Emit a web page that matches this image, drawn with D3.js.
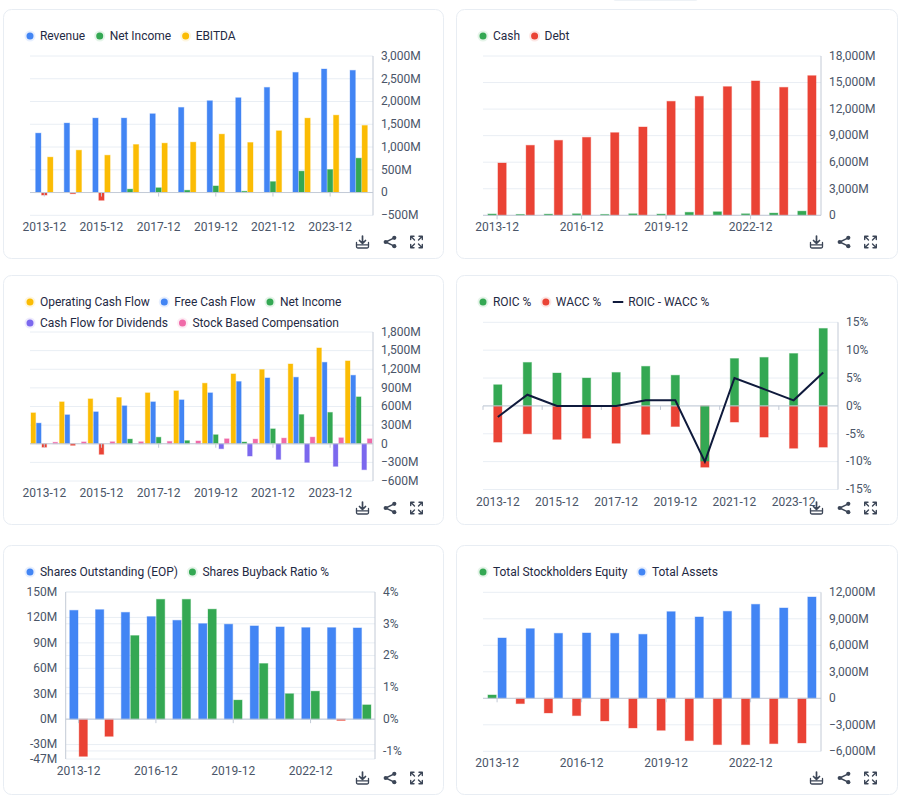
<!DOCTYPE html>
<html><head><meta charset="utf-8">
<script src="https://cdn.jsdelivr.net/npm/d3@7/dist/d3.min.js"></script>
<style>
html,body{margin:0;padding:0;background:#fff;}
svg{display:block;}
text{font-family:Roboto,"Noto Sans",sans-serif;}
</style></head><body><div id="chart"></div>
<script>
const years = ["2013-12","2014-12","2015-12","2016-12","2017-12","2018-12","2019-12","2020-12","2021-12","2022-12","2023-12","2024-12"];

const revenue = [1305,1526,1636,1636,1731,1870,2017,2083,2310,2640,2714,2685];
const netIncome = [-55,-25,-170,75,105,50,145,28,240,470,505,755];
const ebitda = [778,930,820,1055,1085,1107,1283,1100,1357,1635,1700,1474];
const cash = [150,100,130,170,100,170,140,340,400,170,250,470];
const debt = [5910,7910,8470,8810,9340,9980,12880,13440,14540,15180,14460,15780];
const operatingCashFlow = [498,675,723,745,820,852,975,1125,1195,1285,1543,1334];
const freeCashFlow = [332,466,514,611,675,707,820,1002,1060,1071,1312,1103];
const cashFlowDividends = [0,0,0,0,0,0,-80,-198,-252,-300,-364,-418];
const stockComp = [24,30,32,32,38,45,80,75,91,107,96,80];
const roic = [3.8,7.8,5.9,5,6,7.1,5.5,-9.9,8.5,8.7,9.4,13.9];
const wacc = [-6.5,-5,-6,-5.8,-6.7,-5.1,-3.7,-11,-2.9,-5.6,-7.6,-7.4];
const spread = [-2,2,0,0,0,1,1,-10,5,3,1,6];
const sharesOutstanding = [128.4,129.2,126,121,116.6,112.7,112,110,108.8,108,108,107.6];
const buybackRatio = [-1.17,-0.54,2.63,3.77,3.77,3.46,0.6,1.75,0.8,0.88,-0.04,0.45];
const equity = [377,-600,-1660,-1960,-2566,-3358,-3622,-4792,-5245,-5245,-5132,-5057];
const assets = [6830,7887,7358,7396,7358,7245,9811,9208,9849,10640,10226,11470];

const ticks1 = [-500,0,500,1000,1500,2000,2500,3000];
const ticks2 = [0,3000,6000,9000,12000,15000,18000];
const ticks3 = [-600,-300,0,300,600,900,1200,1500,1800];
const ticks4 = [-15,-10,-5,0,5,10,15];
const ticks5L = [-47,-30,0,30,60,90,120,150];
const ticks5R = [-1,0,1,2,3,4];
const ticks6 = [-6000,-3000,0,3000,6000,9000,12000];

const BLUE="#4285f4",GREEN="#34a853",YELLOW="#fbbc04",RED="#ea4335",PURPLE="#7b68ee",PINK="#f06aa8",NAVY="#0f1a3c";
const fmtM = d => d===0?"0":d3.format(",")(d)+"M";
const fmtM0 = d => d+"M";
const fmtP = d => d+"%";

const panels = [
 {card:[3.5,9.5,440,249],plot:[30,373,56,215.3],domain:[-500,3000],ticks:ticks1,fmt:fmtM,step:2,barW:5.3,pitch:6,
  legend:[[["Revenue",BLUE],["Net Income",GREEN],["EBITDA",YELLOW]]],legendX:30,legendY:36,
  bars:[{v:revenue,c:BLUE},{v:netIncome,c:GREEN,neg:RED},{v:ebitda,c:YELLOW}]},
 {card:[456.5,9.5,441,249],plot:[483,821,56,215.3],domain:[0,18000],ticks:ticks2,fmt:fmtM,step:3,barW:8.3,pitch:10,
  legend:[[["Cash",GREEN],["Debt",RED]]],legendX:483,legendY:36,
  bars:[{v:cash,c:GREEN},{v:debt,c:RED}]},
 {card:[3.5,275.5,440,249],plot:[30,373,332,481],domain:[-600,1800],ticks:ticks3,fmt:fmtM,step:2,barW:4.6,pitch:5.5,
  legend:[[["Operating Cash Flow",YELLOW],["Free Cash Flow",BLUE],["Net Income",GREEN]],[["Cash Flow for Dividends",PURPLE],["Stock Based Compensation",PINK]]],legendX:30,legendY:302,
  bars:[{v:operatingCashFlow,c:YELLOW},{v:freeCashFlow,c:BLUE},{v:netIncome,c:GREEN,neg:RED},{v:cashFlowDividends,c:PURPLE},{v:stockComp,c:PINK}]},
 {card:[456.5,275.5,441,249],plot:[483,838,322.3,489.5],domain:[-15,15],ticks:ticks4,fmt:fmtP,step:2,barW:8.3,pitch:0,boundary:true,
  legend:[[["ROIC %",GREEN],["WACC %",RED],["ROIC - WACC %",NAVY,"line"]]],legendX:483,legendY:302,
  bars:[{v:wacc,c:RED},{v:roic,c:GREEN}],line:spread},
 {card:[3.5,545.5,440,249],plot:[65.7,375,592,759],domain:[-47,150],ticks:ticks5L,fmt:fmtM0,step:3,barW:8.3,pitch:9.4,
  legend:[[["Shares Outstanding (EOP)",BLUE],["Shares Buyback Ratio %",GREEN]]],legendX:30,legendY:572,
  bars:[{v:sharesOutstanding,c:BLUE},{v:buybackRatio,c:GREEN,neg:RED,right:true}],
  right:{max:4,ticks:ticks5R,fmt:fmtP}},
 {card:[456.5,545.5,441,249],plot:[483,821,592.3,751.3],domain:[-6000,12000],ticks:ticks6,fmt:fmtM,step:3,barW:8.3,pitch:10,
  legend:[[["Total Stockholders Equity",GREEN],["Total Assets",BLUE]]],legendX:483,legendY:572,
  bars:[{v:equity,c:GREEN,neg:RED},{v:assets,c:BLUE}]}
];

const GRID="#e9eef4",AXIS="#c3cad6",LABEL="#4a5568",LEG="#1f2a44",ICON="#3c4657";
const FONT='Roboto,"Noto Sans",sans-serif';
const svg=d3.select("#chart").append("svg").attr("width",900).attr("height",808);
svg.append("rect").attr("x",613).attr("y",-6).attr("width",85).attr("height",7).attr("rx",3).attr("fill","#eef2f6");

function styleAxis(g,size,color){
  g.selectAll("text").attr("font-size",size).attr("fill",color||LABEL).attr("font-family",FONT);
}
panels.forEach(p=>{
  const [cx,cy,cw,ch]=p.card, [l,r,t,b]=p.plot;
  const g=svg.append("g");
  g.append("rect").attr("x",cx).attr("y",cy).attr("width",cw).attr("height",ch).attr("rx",8).attr("fill","#fff").attr("stroke","#e8edf3");

  const x=d3.scaleBand().domain(years).range([l,r]);
  const y=d3.scaleLinear().domain(p.domain).range([b,t]);
  const y2=p.right?d3.scaleLinear().domain([p.domain[0]/p.domain[1]*p.right.max,p.right.max]).range([b,t]):null;

  // grid lines
  g.append("g").selectAll("line").data(p.ticks).join("line")
    .attr("x1",l).attr("x2",r).attr("y1",d=>y(d)).attr("y2",d=>y(d)).attr("stroke",GRID);
  if(y2) g.append("g").selectAll("line").data(p.right.ticks).join("line")
    .attr("x1",l).attr("x2",r).attr("y1",d=>y2(d)).attr("y2",d=>y2(d)).attr("stroke",GRID);

  // bars
  const n=p.bars.length;
  p.bars.forEach((s,i)=>{
    const sy=s.right?y2:y;
    const off=(i-(n-1)/2)*p.pitch;
    g.append("g").selectAll("rect").data(s.v.map((v,k)=>({v,k}))).join("rect")
      .attr("x",d=>x(years[d.k])+x.bandwidth()/2+off-p.barW/2)
      .attr("width",p.barW)
      .attr("y",d=>Math.min(sy(d.v),sy(0)))
      .attr("height",d=>Math.abs(sy(d.v)-sy(0)))
      .attr("fill",d=>d.v<0&&s.neg?s.neg:s.c)
      .attr("stroke",d=>d.v<0&&s.neg?s.neg:s.c)
      .attr("stroke-opacity",0.35).attr("stroke-width",1);
  });

  // x axis line + ticks on the zero line
  const idx=d3.range(0,12,p.step);
  const tickScale=d3.scaleLinear().domain([0,12]).range([l,r]);
  const axisLine=d3.axisBottom(tickScale).tickValues(idx.map(i=>p.boundary?i:i+0.5)).tickSize(4).tickSizeOuter(0).tickFormat("").offset(0);
  const xg=g.append("g").attr("transform",`translate(0,${y(0)})`).call(axisLine);
  xg.selectAll("path,line").attr("stroke",AXIS);

  // x labels
  const labels=d3.axisBottom(x).tickValues(idx.map(i=>years[i])).tickSize(0).offset(0);
  const lg=g.append("g").attr("transform",`translate(0,${b})`).call(labels);
  lg.select(".domain").remove();
  lg.selectAll("text").attr("y",7.5).attr("dy","0.71em");
  styleAxis(lg,12);

  // value axes
  if(p.right){
    const ax=d3.axisLeft(y).tickValues(p.ticks).tickSize(0).tickFormat(p.fmt).offset(0);
    const ag=g.append("g").attr("transform",`translate(${l},0)`).call(ax);
    ag.selectAll(".domain").attr("stroke",AXIS);
    ag.selectAll("text").attr("x",-8.5);
    styleAxis(ag,12);
    const ar=d3.axisRight(y2).tickValues(p.right.ticks).tickSize(0).tickFormat(p.right.fmt).offset(0);
    const rg=g.append("g").attr("transform",`translate(${r},0)`).call(ar);
    rg.selectAll(".domain").attr("stroke",AXIS);
    rg.selectAll("text").attr("x",8);
    styleAxis(rg,12);
  } else {
    const ar=d3.axisRight(y).tickValues(p.ticks).tickSize(0).tickFormat(p.fmt).offset(0);
    const rg=g.append("g").attr("transform",`translate(${r},0)`).call(ar);
    rg.selectAll(".domain").attr("stroke",AXIS);
    rg.selectAll("text").attr("x",8);
    styleAxis(rg,12);
  }

  // line series
  if(p.line){
    const ln=d3.line().x((d,i)=>x(years[i])+x.bandwidth()/2).y(d=>y(d));
    g.append("path").attr("d",ln(p.line)).attr("fill","none").attr("stroke",NAVY).attr("stroke-width",2);
  }

  // legend
  p.legend.forEach((row,ri)=>{
    let lx=p.legendX; const ly=p.legendY+ri*21;
    row.forEach(([name,c,kind])=>{
      let tx;
      if(kind==="line"){
        g.append("line").attr("x1",lx-3).attr("x2",lx+7.5).attr("y1",ly).attr("y2",ly).attr("stroke",c).attr("stroke-width",2);
        tx=lx+12.5;
      } else {
        g.append("circle").attr("cx",lx).attr("cy",ly).attr("r",5.5).attr("fill",c).attr("opacity",.13);
        g.append("circle").attr("cx",lx).attr("cy",ly).attr("r",3.5).attr("fill",c);
        tx=lx+10;
      }
      const te=g.append("text").attr("x",tx).attr("y",ly).attr("dy","0.33em").attr("font-size",12).attr("letter-spacing",-0.04).attr("fill",LEG).text(name);
      lx=tx+te.node().getComputedTextLength()+14.6;
    });
  });

  // toolbar icons
  const ix=cx+cw, iy=cy+ch-16.5;
  const ic=g.append("g").attr("fill","none").attr("stroke",ICON).attr("stroke-width",1.3).attr("stroke-linecap","round").attr("stroke-linejoin","round");
  const d1=ic.append("g").attr("transform",`translate(${ix-81},${iy})`);
  d1.append("path").attr("d","M-6 0.5V4.5Q-6 6 -4.5 6H4.5Q6 6 6 4.5V0.5");
  d1.append("path").attr("d","M-6 2.8H6");
  d1.append("path").attr("d","M0 -6V1.5M-3 -1.5L0 1.5L3 -1.5").attr("stroke-width",1.7);
  const d2=ic.append("g").attr("transform",`translate(${ix-53.5},${iy})`);
  d2.append("path").attr("d","M4.3 -4.2L-4.3 0L4.3 4.2").attr("stroke-width",1.4);
  [[4.3,-4.2],[-4.3,0],[4.3,4.2]].forEach(q=>d2.append("circle").attr("cx",q[0]).attr("cy",q[1]).attr("r",2.1).attr("fill",ICON).attr("stroke","none"));
  const d3g=ic.append("g").attr("transform",`translate(${ix-27},${iy})`);
  [[1,1],[1,-1],[-1,1],[-1,-1]].forEach(([a,b2])=>{
    d3g.append("path").attr("d",`M${a*2} ${b2*2}L${a*5.5} ${b2*5.5}M${a*2.5} ${b2*5.8}H${a*5.8}V${b2*2.5}`).attr("stroke-width",1.4);
  });
});
</script></body></html>
